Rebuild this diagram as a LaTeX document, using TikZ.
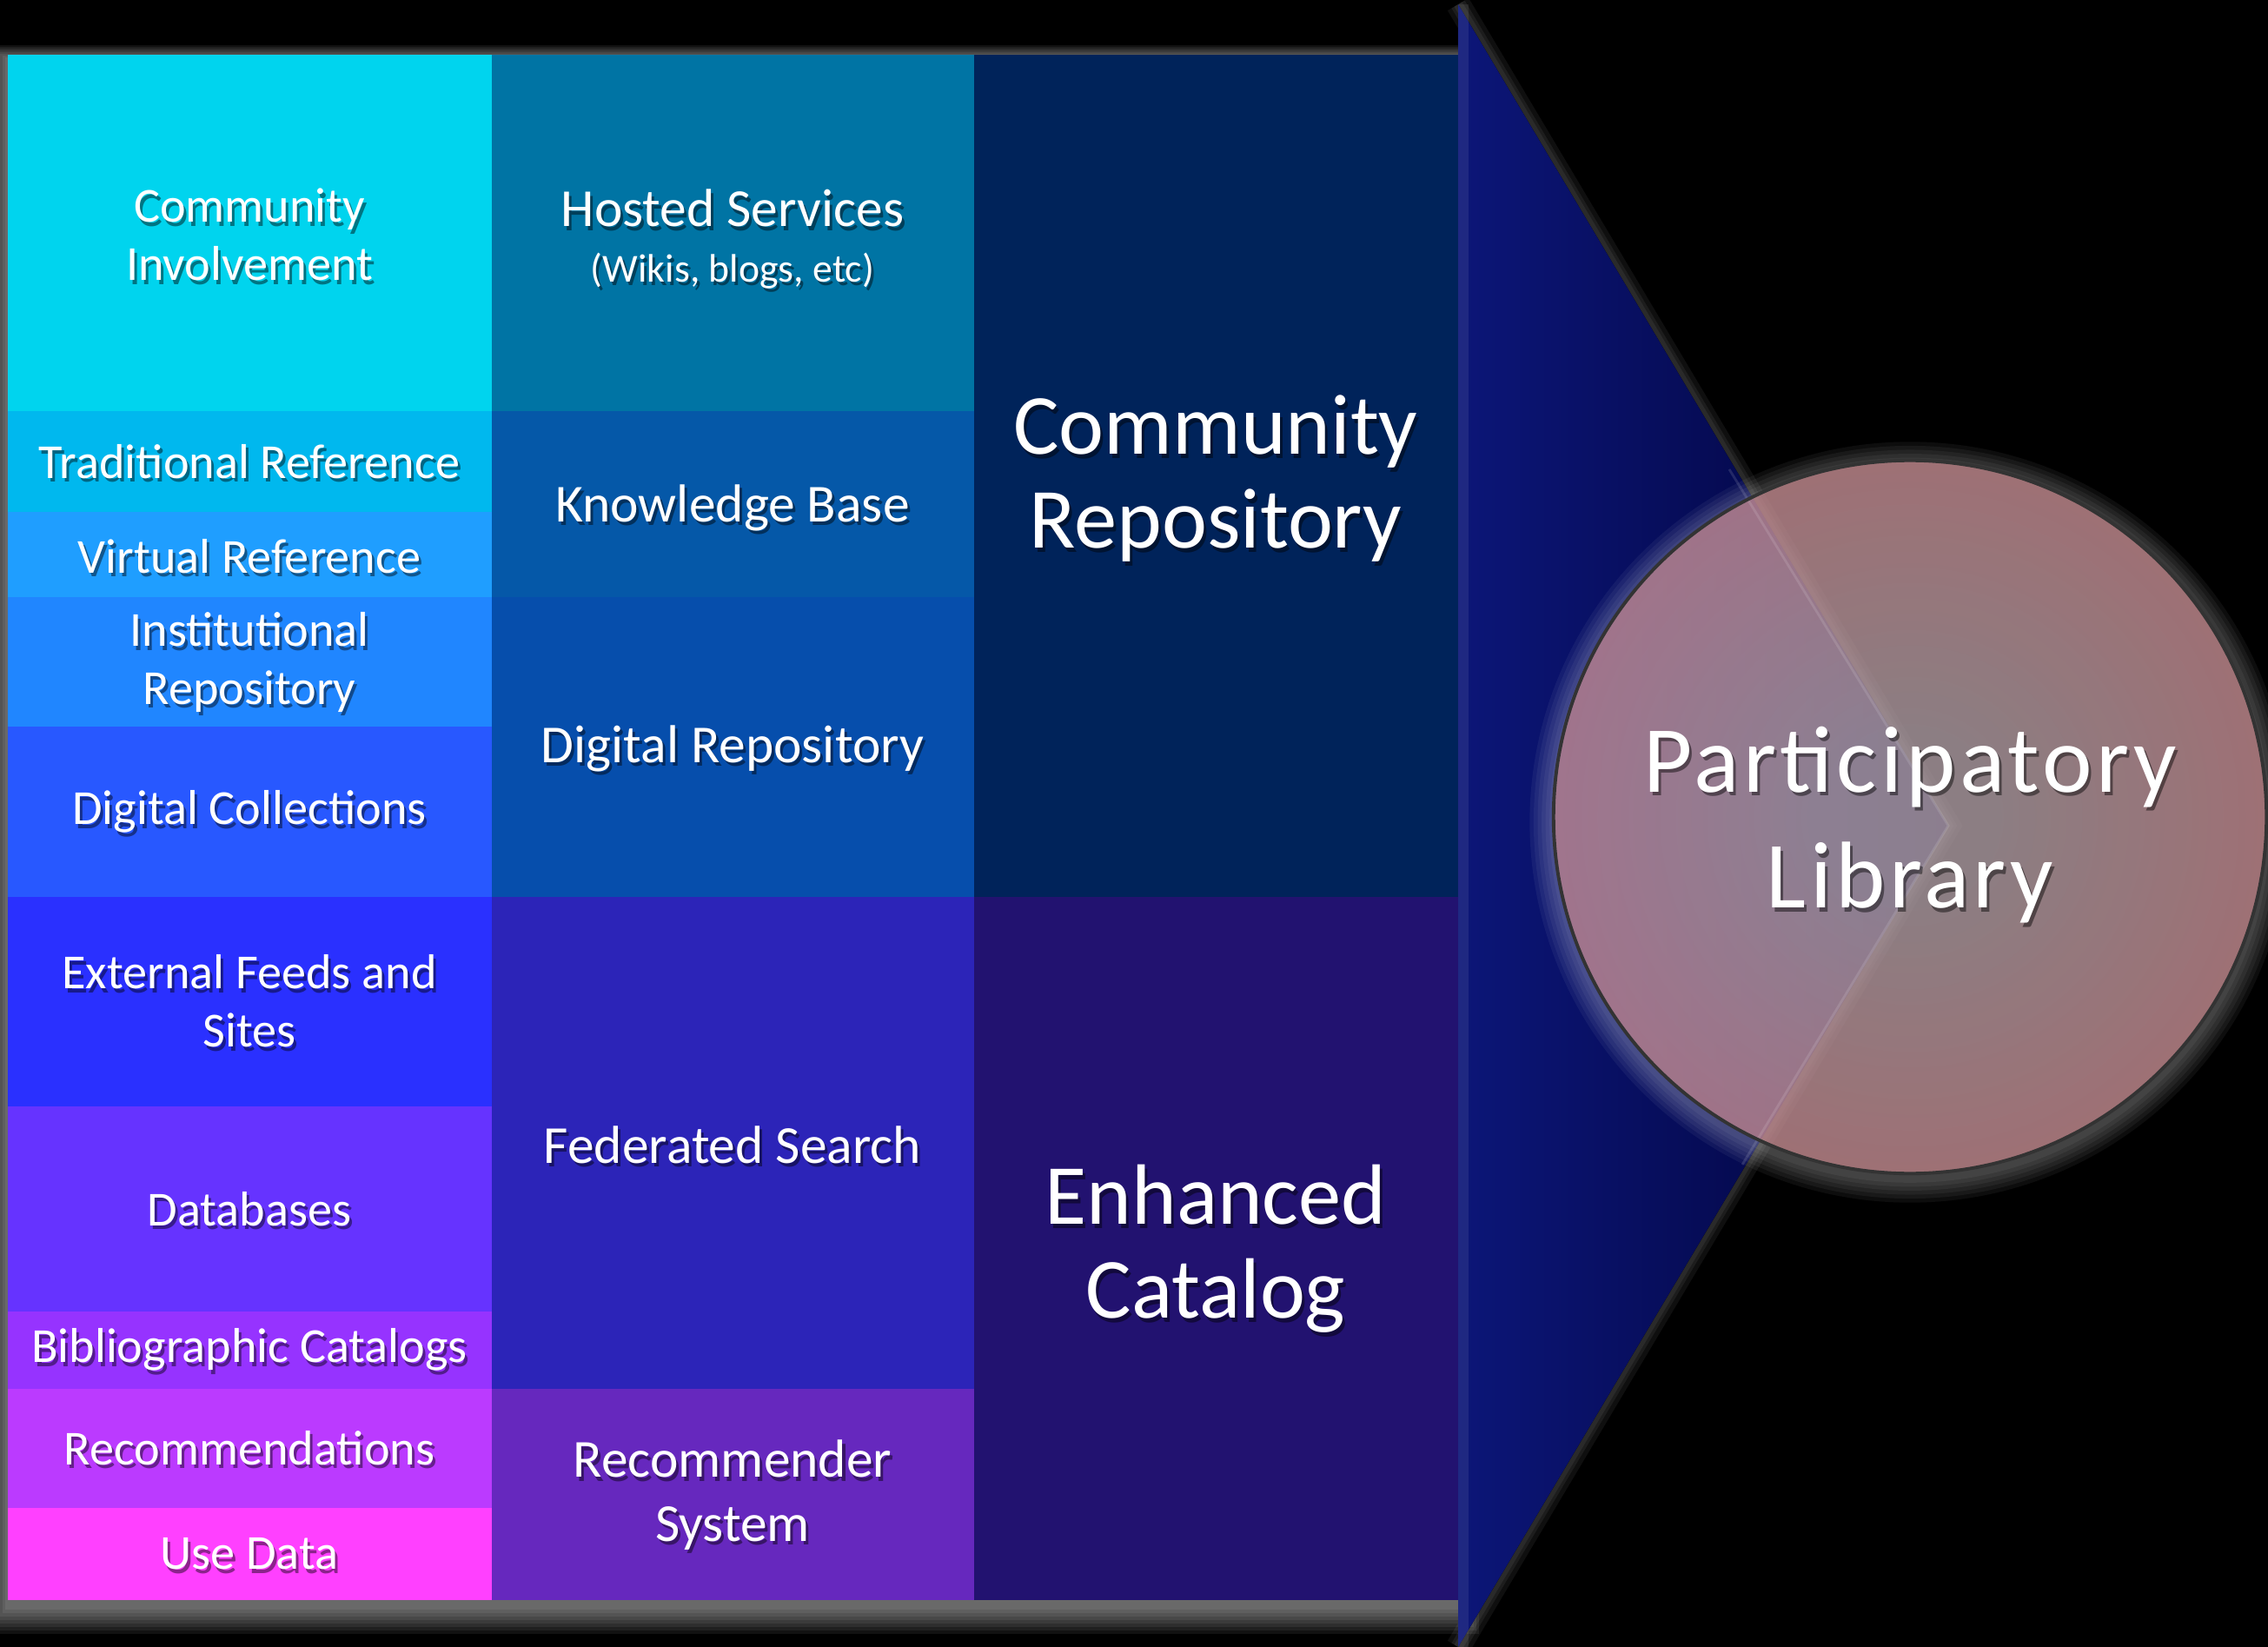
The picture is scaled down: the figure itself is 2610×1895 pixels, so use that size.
\documentclass[tikz,border=0pt]{standalone}
\usepackage{fontspec}
\setmainfont{Carlito}
\newfontfamily\widefont[LetterSpace=4]{Carlito}
\usepackage{xcolor}
\usepackage{tikz}
\definecolor{c1}{HTML}{00D4EE}
\definecolor{c2}{HTML}{00B8EE}
\definecolor{c3}{HTML}{1F9EFF}
\definecolor{c4}{HTML}{2086FF}
\definecolor{c5}{HTML}{2858FF}
\definecolor{c6}{HTML}{2A30FF}
\definecolor{c7}{HTML}{6633FF}
\definecolor{c8}{HTML}{9633FF}
\definecolor{c9}{HTML}{BB3AFF}
\definecolor{c10}{HTML}{FF40FF}
\definecolor{c11}{HTML}{0074A4}
\definecolor{c12}{HTML}{0558A8}
\definecolor{c13}{HTML}{064EAC}
\definecolor{c14}{HTML}{2C24B8}
\definecolor{c15}{HTML}{6628BE}
\definecolor{c16}{HTML}{00235A}
\definecolor{c17}{HTML}{221270}
\definecolor{c18}{HTML}{0C1678}
\definecolor{c19}{HTML}{000236}
\definecolor{c20}{HTML}{B4A2A8}
\definecolor{c21}{HTML}{EA7A80}
\pgfdeclareradialshading{ball}{\pgfpoint{0bp}{0bp}}{color(0bp)=(c20); color(6bp)=(c20); color(50bp)=(c21)}
\newcommand{\celltext}[4]{%
  \node[#3, shd] (#1s) at (#2) {#4};
  \node[#3] (#1) at (#2) {#4};}
\tikzset{
  txt/.style={text=white, align=center, inner sep=0pt},
  lefttxt/.style={txt, font=\fontsize{16}{19}\selectfont},
  midtxt/.style={txt, font=\fontsize{17.5}{19}\selectfont},
  righttxt/.style={txt, font=\fontsize{28}{30.7}\selectfont},
  circtxt/.style={txt, font=\widefont\fontsize{31}{38}\selectfont},
  shd/.style={text=black, text opacity=0.45, xshift=0.03cm, yshift=-0.045cm},
}

\begin{document}
\begin{tikzpicture}[x=0.01cm, y=-0.01cm]
    \useasboundingbox (0,0) rectangle (2610,1895);
    \fill[black] (0,0) rectangle (2610,1895);

    % glow behind the grid
    \foreach \k in {1,...,8}
        \fill[white, opacity=0.065] (9-3*\k, 68-2*\k) rectangle (1678+3*\k, 1848+4*\k);

    % glow along the funnel
    \foreach \w in {8,5,3}
        \draw[white, opacity=0.06, line width=\w pt] (1678,5) -- (2242,950) -- (1678,1895);
    \fill[left color=c18, right color=c19] (1678,5) -- (2242,950) -- (1678,1895) -- cycle;
    \fill[white, opacity=0.08] (1678,5) rectangle (1690,1895);

    % left column
    \fill[c1] (9,63) rectangle (566,473);
    \fill[c2] (9,473) rectangle (566,589);
    \fill[c3] (9,589) rectangle (566,687);
    \fill[c4] (9,687) rectangle (566,836);
    \fill[c5] (9,836) rectangle (566,1032);
    \fill[c6] (9,1032) rectangle (566,1273);
    \fill[c7] (9,1273) rectangle (566,1509);
    \fill[c8] (9,1509) rectangle (566,1598);
    \fill[c9] (9,1598) rectangle (566,1735);
    \fill[c10] (9,1735) rectangle (566,1841);
    % middle column
    \fill[c11] (566,63) rectangle (1121,473);
    \fill[c12] (566,473) rectangle (1121,687);
    \fill[c13] (566,687) rectangle (1121,1032);
    \fill[c14] (566,1032) rectangle (1121,1598);
    \fill[c15] (566,1598) rectangle (1121,1841);
    % right column
    \fill[c16] (1121,63) rectangle (1678,1032);
    \fill[c17] (1121,1032) rectangle (1678,1841);

    \celltext{inv}{287,270}{lefttxt}{Community\\Involvement}
    \celltext{trad}{287,531}{lefttxt}{Traditional Reference}
    \celltext{virt}{287,640}{lefttxt}{Virtual Reference}
    \celltext{inst}{287,762}{lefttxt}{Institutional\\Repository}
    \celltext{coll}{287,934}{lefttxt}{Digital Collections}
    \celltext{feed}{287,1152}{lefttxt}{External Feeds and\\Sites}
    \celltext{dbs}{287,1391}{lefttxt}{Databases}
    \celltext{bib}{287,1553}{lefttxt}{Bibliographic Catalogs}
    \celltext{recs}{287,1666}{lefttxt}{Recommendations}
    \celltext{use}{287,1788}{lefttxt}{Use Data}

    \celltext{host}{843,275}{midtxt}{Hosted Services\\[-1pt]{\fontsize{13}{15}\selectfont (Wikis, blogs, etc)}}
    \celltext{know}{843,584}{midtxt}{Knowledge Base}
    \celltext{drep}{843,861}{midtxt}{Digital Repository}
    \celltext{fed}{843,1317}{midtxt}{Federated Search}
    \celltext{rsys}{843,1720}{midtxt}{Recommender\\[2pt]System}

    \celltext{crep}{1399,551}{righttxt}{Community\\Repository}
    \celltext{ecat}{1399,1437}{righttxt}{Enhanced\\Catalog}

    % the circle
    \foreach \k in {1,...,6}
        \fill[white, opacity=0.05, even odd rule] (2198,946) circle (4.1cm+\k*1.3pt) (2198,940) circle (4.1cm);
    \shade[shading=ball, opacity=0.78] (2198,940) circle (4.1cm);
    \draw[white, opacity=0.12, line width=0.8pt] (1990,540) -- (2242,950) -- (2005,1340);
    \draw[black!80, line width=1.1pt] (2198,940) circle (4.1cm);
    \celltext{lib}{2198,949}{circtxt}{Participatory\\Library}
\end{tikzpicture}
\end{document}
